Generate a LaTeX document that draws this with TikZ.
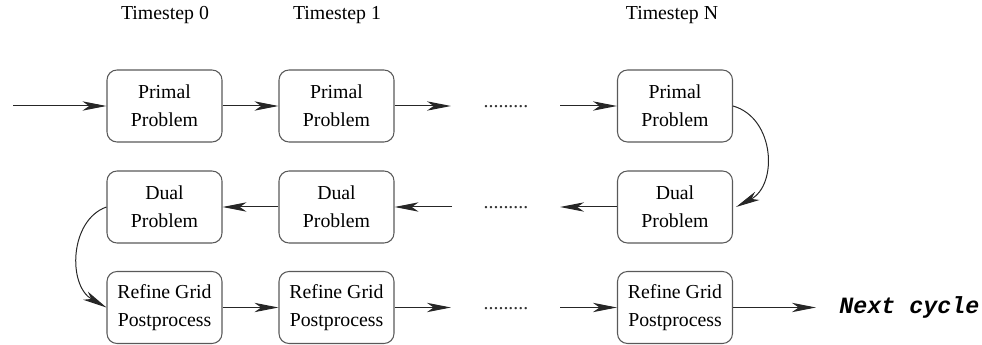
\documentclass[tikz,border=0pt]{standalone}
\usepackage{fontspec}
\setmainfont{Liberation Serif}
\newfontfamily\monobi[BoldItalicFont={Liberation Mono Bold Italic}]{Liberation Mono}
\usetikzlibrary{arrows.meta}
\tikzset{
  box/.style={draw=black!65, line width=0.8pt, rounded corners=7.5pt, minimum width=86.25pt, minimum height=54pt, inner sep=0pt, align=center, font=\fontsize{14.85}{21}\selectfont},
  title/.style={font=\fontsize{14.85}{18}\selectfont, inner sep=0pt},
  dots/.style={font=\fontsize{14.85}{18}\selectfont, inner sep=0pt, text=black!80},
  conn/.style={draw=black!85, line width=0.75pt, -{Stealth[length=18pt, width=7pt, inset=5pt]}},
}
\begin{document}
\begin{tikzpicture}[x=0.75pt, y=-0.75pt]
\useasboundingbox (0,0) rectangle (982,345);
% titles
\node[title] (t0) at (165,15) {Timestep 0};
\node[title] (t1) at (337,15) {Timestep 1};
\node[title] (tn) at (672,15) {Timestep N};
% boxes
\node[box] (p0) at (164.5,106) {Primal\\Problem};
\node[box] (p1) at (336.5,106) {Primal\\Problem};
\node[box] (pn) at (675,106) {Primal\\Problem};
\node[box] (d0) at (164.5,207) {Dual\\Problem};
\node[box] (d1) at (336.5,207) {Dual\\Problem};
\node[box] (dn) at (675,207) {Dual\\Problem};
\node[box] (r0) at (164.5,307.5) {Refine Grid\\Postprocess};
\node[box] (r1) at (336.5,307.5) {Refine Grid\\Postprocess};
\node[box] (rn) at (675,307.5) {Refine Grid\\Postprocess};
% dots
\node[dots] (dotsA) at (506,107) {.........};
\node[dots] (dotsB) at (506,208) {.........};
\node[dots] (dotsC) at (506,308.5) {.........};
% free ends
\coordinate (in0) at (13,106);
\coordinate (a1) at (451,106);
\coordinate (a2) at (560,106);
\coordinate (b1) at (560,207);
\coordinate (b2) at (452,207);
\coordinate (c1) at (451,307.5);
\coordinate (c2) at (560,307.5);
\coordinate (out) at (816,307.5);
\node[font=\fontsize{17.5}{20}\selectfont\monobi\bfseries\itshape, anchor=west, inner sep=0pt] (next) at (839,307) {Next cycle};
% row 1
\draw[conn] (in0) -- (p0.west);
\draw[conn] (p0.east) -- (p1.west);
\draw[conn] (p1.east) -- (a1);
\draw[conn] (a2) -- (pn.west);
% row 2
\draw[conn] (dn.west) -- (b1);
\draw[conn] (b2) -- (d1.east);
\draw[conn] (d1.west) -- (d0.east);
% row 3
\draw[conn] (r0.east) -- (r1.west);
\draw[conn] (r1.east) -- (c1);
\draw[conn] (c2) -- (rn.west);
\draw[conn] (rn.east) -- (out);
% curves
\draw[conn] (pn.east) .. controls +(42,12) and +(42,-22) .. ([xshift=2.25pt]dn.east);
\draw[conn] (d0.west) .. controls +(-37,13) and +(-39,-22) .. (r0.west);
\end{tikzpicture}
\end{document}
